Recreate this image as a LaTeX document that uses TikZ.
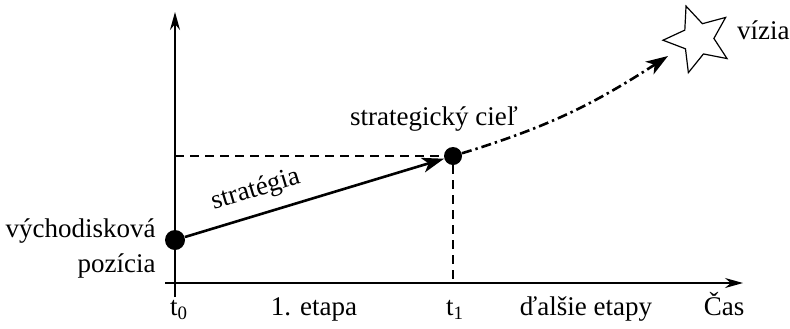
\documentclass[tikz,border=0pt]{standalone}
\usepackage{fontspec}
\setmainfont{Liberation Serif}
\usetikzlibrary{arrows.meta,positioning,shapes.geometric}
\begin{document}
\begin{tikzpicture}[x=0.5pt,y=0.5pt,>={Stealth[length=9pt,width=5pt]},
  font=\fontsize{13.5}{17.5}\selectfont,
  dot/.style={circle, fill, inner sep=0pt, minimum size=9pt},
  lbl/.style={anchor=base},
  guide/.style={line width=0.6pt, dash pattern=on 4.5pt off 3pt}]
\useasboundingbox (0,0) rectangle (790,328);

% axes
\coordinate (xs) at (165,45);
\coordinate (xe) at (743,45);
\coordinate (ys) at (175,31);
\coordinate (ye) at (175,316);
\draw[->, line width=0.8pt] (xs) -- (xe);
\draw[->, line width=0.8pt] (ys) -- (ye);

% points
\node[dot, minimum size=10pt] (s0) at (175,88) {};
\node[dot] (t1) at (453,172) {};
\coordinate (yt1) at (175,172);
\coordinate (xt1) at (453,45);
\coordinate (visend) at (668,272);
\node[star, star points=5, star point ratio=2.2, draw, line width=0.6pt,
      minimum size=35pt, inner sep=0pt, shape border rotate=20] (vis) at (698,289) {};

\draw[guide] (yt1) -- (t1);
\draw[guide] (t1) -- (xt1);

\draw[line width=1.3pt, -{Stealth[length=11pt,width=7.5pt,inset=3pt]}] (s0) -- (t1)
  node[pos=0.3, above=2pt, sloped] (strat) {stratégia};
\draw[line width=1.3pt, dash pattern=on 5pt off 2pt on 1.2pt off 2pt,
      -{Stealth[length=11pt,width=7.5pt,inset=3pt]}] (t1) to[out=17, in=213] (visend);

% texts
\node[left=1pt of s0, yshift=-4pt, align=right] (start) {východisková\\pozícia};
\node[above=4pt of t1, xshift=-9.5pt] (goal) {strategický cieľ};
\node[anchor=base west] (vizia) at ([xshift=16pt]vis.center) {vízia};

\node[lbl] (l0) at (179,13) {t\textsubscript{0}};
\node[lbl] (l1) at (314,13) {1. etapa};
\node[lbl] (l2) at (455,13) {t\textsubscript{1}};
\node[lbl] (l3) at (586,13) {ďalšie etapy};
\node[lbl] (l4) at (724,13) {Čas};
\end{tikzpicture}
\end{document}
